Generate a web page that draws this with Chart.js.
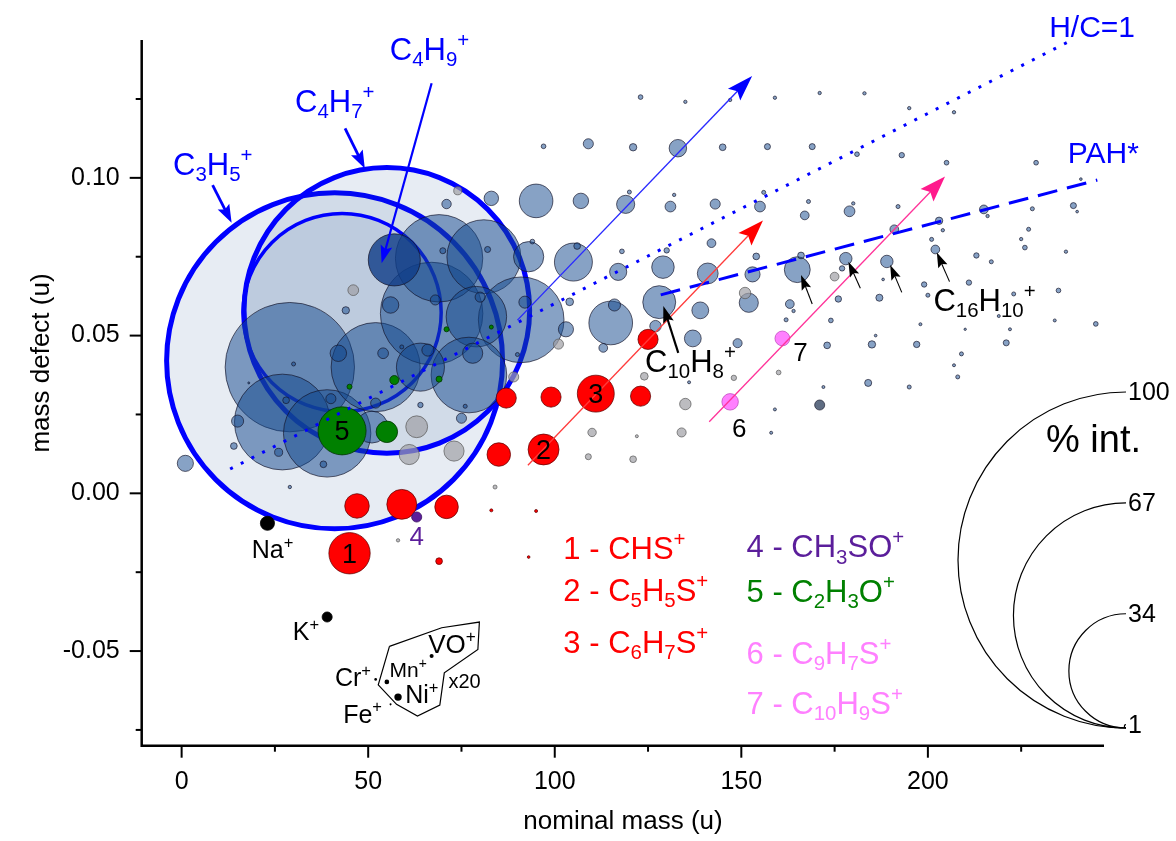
<!DOCTYPE html>
<html>
<head>
<meta charset="utf-8">
<script src="https://cdn.jsdelivr.net/npm/chart.js@4.4.0/dist/chart.umd.min.js"></script>
<style>
  html, body { margin: 0; padding: 0; background: #fff; }
  canvas { display: block; }
</style>
</head>
<body>
<canvas id="c" width="1176" height="841"></canvas>
<script>
// each ion: [nominal mass (u), mass defect (u), % int.]
const bigIons = [ // C3H5+, C4H7+, C3H7+
  [41, 0.042, 100], [55, 0.058, 85], [43, 0.0573, 59]
];
const bigWidths = [5, 5, 3.5];

const blueIons = [
  [29, 0.040, 38.5], [27, 0.0226, 28.5], [39, 0.019, 26], [52, 0.040, 26.5], [67, 0.057, 30.5],
  [69, 0.0745, 26], [81, 0.075, 22], [91, 0.055, 25.5], [79, 0.056, 18], [77, 0.0375, 22.5],
  [64, 0.040, 14.3], [51, 0.021, 9.5], [95, 0.0927, 10], [93, 0.075, 9], [105, 0.0733, 11.3],
  [103, 0.052, 4.5], [83, 0.0935, 4.3], [71, 0.0917, 2.8], [56, 0.0597, 4.9], [80, 0.0622, 3],
  [92, 0.0606, 3.6], [78, 0.0444, 6], [66, 0.0454, 3.6], [75, 0.0238, 3], [1, 0.0095, 4.8],
  [15, 0.0229, 3.6], [14, 0.015, 2], [26, 0.013, 2.4], [38, 0.0092, 2], [29, 0.002, 1],
  [44, 0.058, 2.2], [30, 0.041, 1.2], [42, 0.0444, 4.9], [40, 0.030, 3], [54, 0.0444, 3.2],
  [64, 0.028, 1.6], [76, 0.0276, 1.2], [90, 0.044, 1.2], [52, 0.0286, 3], [28, 0.0295, 2],
  [18, 0.035, 0.6], [70, 0.0769, 1.8], [82, 0.0773, 1.8], [68, 0.0613, 3], [94, 0.0798, 1.4],
  [106, 0.0784, 2], [104, 0.0607, 2.3], [59, 0.0464, 1.2], [115, 0.054, 13], [116, 0.0597, 3.6],
  [128, 0.0606, 9.8], [129, 0.0717, 6.7], [141, 0.0697, 6.2], [153, 0.0694, 4.5], [165, 0.0709, 7.7],
  [178, 0.0744, 3.7], [189, 0.0735, 3.7], [152, 0.0604, 5.7], [139, 0.058, 5], [137, 0.0491, 5],
  [127, 0.053, 3.4], [149, 0.0476, 2.7], [163, 0.060, 2.6], [164, 0.0578, 1], [162, 0.055, 1.2],
  [174, 0.0548, 1.4], [176, 0.0616, 1.9], [187, 0.062, 2.1], [199, 0.0662, 1.6], [200, 0.0628, 1.2],
  [211, 0.0668, 1.6], [213, 0.0754, 1.6], [217, 0.0734, 1.2], [223, 0.0632, 1.2], [235, 0.0643, 1.4],
  [245, 0.0537, 1.4], [234, 0.0548, 0.9], [222, 0.052, 0.9], [219, 0.0562, 0.9], [198, 0.0536, 0.9],
  [210, 0.052, 0.7], [221, 0.0477, 1.8], [197, 0.0472, 1.9], [185, 0.0472, 2.2], [173, 0.0469, 2],
  [209, 0.0442, 1.2], [207, 0.0406, 0.9], [208, 0.0369, 1.2], [184, 0.035, 2.1], [195, 0.0337, 1.2],
  [172, 0.0337, 0.9], [159, 0.0266, 0.9], [158, 0.0192, 0.9], [136, 0.0352, 0.9], [113, 0.0461, 2.6],
  [123, 0.1256, 1.4], [135, 0.1241, 1], [147, 0.1247, 1], [159, 0.1254, 1], [171, 0.1269, 1],
  [183, 0.1268, 1], [195, 0.1221, 1], [207, 0.1208, 1], [97, 0.110, 1.4], [109, 0.1108, 3],
  [121, 0.1097, 2.2], [133, 0.1094, 5.2], [145, 0.1097, 2], [157, 0.1099, 1.8], [169, 0.1099, 1.8],
  [181, 0.1075, 1.4], [193, 0.1072, 1.6], [205, 0.1048, 1.4], [229, 0.1048, 1.4], [107, 0.0927, 4.6],
  [119, 0.0916, 5.4], [120, 0.0955, 1.2], [131, 0.0909, 3.2], [132, 0.0946, 1], [143, 0.0917, 3],
  [155, 0.0909, 3.2], [156, 0.0954, 1.2], [168, 0.0925, 1.2], [167, 0.0881, 2.6], [179, 0.0894, 3.2],
  [180, 0.0919, 1], [192, 0.0909, 1.2], [215, 0.090, 2.6], [216, 0.0879, 1], [228, 0.0902, 1.2],
  [239, 0.0912, 1.8], [240, 0.0893, 0.8], [241, 0.0996, 0.8], [191, 0.0837, 2.6], [203, 0.0864, 2.2],
  [204, 0.0834, 1], [227, 0.0837, 1.2], [225, 0.0806, 1], [226, 0.0779, 1.4], [237, 0.0766, 1],
  [201, 0.0805, 1.2], [202, 0.0773, 2.6], [177, 0.0713, 1.6], [188, 0.0678, 0.8], [118, 0.0767, 1.4],
  [117, 0.0702, 5.1], [130, 0.077, 1.6], [142, 0.0793, 2.6], [154, 0.0751, 2], [166, 0.0754, 2],
  [186, 0.050, 0.8]
];
const darkIons = [[57, 0.074, 15.5]];          // C4H9+
const slateIons = [[171, 0.028, 3]];
const greyIons = [
  [74, 0.0959, 2.4], [46, 0.0644, 3.2], [63, 0.0211, 6.5], [61, 0.0123, 6], [73, 0.0134, 6],
  [89, 0.0369, 3], [101, 0.0473, 3], [58, -0.0149, 1], [84, 0.002, 1.2], [151, 0.0635, 3.4],
  [175, 0.0687, 2.6], [160, 0.0383, 1.4], [148, 0.0366, 1.6], [135, 0.0283, 3.4], [134, 0.0193, 2.7],
  [121, 0.0108, 2], [109, 0.0116, 1.8], [110, 0.0193, 2.5], [122, 0.0181, 0.9], [124, 0.0371, 2.3]
];
const redIons = [
  [45, -0.019, 12.3], [47, -0.004, 7.3], [59, -0.0035, 8.9], [71, -0.0043, 7], [69, -0.0215, 2],
  [83, -0.0054, 0.9], [95, -0.0056, 0.9], [93, -0.0202, 0.8], [85, 0.0123, 7], [97, 0.0139, 9.2],
  [87, 0.0302, 6], [99, 0.0305, 6], [111, 0.0316, 11], [123, 0.0308, 6], [125, 0.0488, 6]
];
const greenIons = [
  [43, 0.0198, 14.3], [55, 0.0195, 6.4], [57, 0.0359, 2.7], [45, 0.0338, 1.5], [69, 0.0362, 1.8],
  [71, 0.052, 1.5], [83, 0.0527, 1.2]
];
const pinkIons = [[147, 0.029, 4.9], [161, 0.0491, 4.4]];
const purpleIons = [[63, -0.0075, 3]];
const blackIons = [[23, -0.0095, 4.2], [39, -0.0392, 3]];          // Na+, K+
const metalIons = [[52, -0.059, 0.8], [55, -0.0598, 1.4], [58, -0.0646, 2.2], [56, -0.0669, 0.6], [67, -0.0516, 1.2]];
const metalBox = [[55.7, -0.0485], [69.7, -0.0426], [79.8, -0.0408], [79.4, -0.0495], [70.4, -0.0569],
  [69.2, -0.0671], [63.2, -0.0706], [57.6, -0.0669], [52.7, -0.0607], [55.7, -0.0485]];

const hcLine = [[13, 0.0077], [237.6, 0.1431]];
const pahLine = [[128.4, 0.0629], [245.4, 0.0993]];

const xMajor = [0, 50, 100, 150, 200];
const xMinor = [25, 75, 125, 175, 225];
const yMajor = [-0.05, 0, 0.05, 0.10];
const yMinor = [-0.075, -0.025, 0.025, 0.075, 0.125];
const sizeLevels = [100, 67, 34, 1];

const X_MIN = -10.7, X_MAX = 247.2, Y_MIN = -0.08, Y_MAX = 0.1437;
const R_PER_PCT = 1.68;
const FAM = '"Liberation Sans", Arial, sans-serif';
const BLUE = '#0000ff', PURPLE = '#5b1e9b', PINK = '#ff80ff';

const toPts = arr => arr.map(([m, d, p]) => ({x: m, y: d, r: p * R_PER_PCT}));
const toXY = arr => arr.map(([m, d]) => ({x: m, y: d}));

// annotation arrows, in data units: [tail, tip]
const arrows = [
  {pts: [[90, 0.0549], [152.9, 0.1323]], color: '#2a2aff', w: 1.4, head: [26, 17], hc: BLUE},
  {pts: [[92.8, 0.0089], [155.8, 0.0865]], color: '#ff3b3b', w: 1.3, head: [26, 18], hc: '#ff0000'},
  {pts: [[141.4, 0.0227], [204.6, 0.1004]], color: '#ff3399', w: 1.3, head: [26, 18], hc: '#ff1a8c'},
  {pts: [[133.1, 0.0445], [129.1, 0.0594]], color: '#000', w: 2.2, head: [17, 11], hc: '#000'},
  {pts: [[169.0, 0.060], [166.0, 0.0692]], color: '#000', w: 1.1, head: [15, 10], hc: '#000'},
  {pts: [[181.9, 0.065], [178.7, 0.0734]], color: '#000', w: 1.1, head: [15, 10], hc: '#000'},
  {pts: [[193.0, 0.0637], [189.9, 0.0724]], color: '#000', w: 1.1, head: [15, 10], hc: '#000'},
  {pts: [[205.8, 0.0671], [202.4, 0.0763]], color: '#000', w: 1.1, head: [15, 10], hc: '#000'},
  {pts: [[8.3, 0.0977], [13.4, 0.0858]], color: BLUE, w: 2.8, head: [18, 13], hc: BLUE},
  {pts: [[43.8, 0.1157], [49.1, 0.1030]], color: BLUE, w: 2.8, head: [18, 13], hc: BLUE},
  {pts: [[67.0, 0.130], [53.6, 0.0729]], color: BLUE, w: 2.2, head: [18, 12], hc: BLUE}
];

// text labels (left baseline in data units)
const labels = [
  {t: 'C_{3}H_{5}^{+}', m: -2.3, d: 0.1009, s: 31, c: BLUE},
  {t: 'C_{4}H_{7}^{+}', m: 30.4, d: 0.1209, s: 31, c: BLUE},
  {t: 'C_{4}H_{9}^{+}', m: 55.8, d: 0.1374, s: 31, c: BLUE},
  {t: 'H/C=1', m: 232.5, d: 0.1447, s: 30, c: BLUE},
  {t: 'PAH*', m: 237.5, d: 0.1047, s: 30, c: BLUE},
  {t: 'C_{10}H_{8}^{+}', m: 124.2, d: 0.0384, s: 31, c: '#000'},
  {t: 'C_{16}H_{10}^{+}', m: 201.5, d: 0.0578, s: 31, c: '#000'},
  {t: '7', m: 163.9, d: 0.0419, s: 26, c: '#000'},
  {t: '6', m: 147.5, d: 0.0178, s: 26, c: '#000'},
  {t: '4', m: 61.1, d: -0.0165, s: 26, c: PURPLE},
  {t: 'Na^{+}', m: 18.8, d: -0.0206, s: 25, c: '#000'},
  {t: 'K^{+}', m: 29.8, d: -0.0466, s: 25, c: '#000'},
  {t: 'Cr^{+}', m: 41.1, d: -0.0611, s: 25, c: '#000'},
  {t: 'Mn^{+}', m: 55.7, d: -0.0583, s: 21, c: '#000'},
  {t: 'VO^{+}', m: 66.1, d: -0.0507, s: 26, c: '#000'},
  {t: 'Ni^{+}', m: 59.9, d: -0.0666, s: 25, c: '#000'},
  {t: 'Fe^{+}', m: 43.3, d: -0.0728, s: 25, c: '#000'},
  {t: 'x20', m: 71.5, d: -0.0618, s: 20, c: '#000'},
  {t: '1 - CHS^{+}', m: 102.3, d: -0.0209, s: 31, c: '#ff0000'},
  {t: '2 - C_{5}H_{5}S^{+}', m: 102.3, d: -0.0341, s: 31, c: '#ff0000'},
  {t: '3 - C_{6}H_{7}S^{+}', m: 102.3, d: -0.0507, s: 31, c: '#ff0000'},
  {t: '4 - CH_{3}SO^{+}', m: 151.4, d: -0.0203, s: 31, c: PURPLE},
  {t: '5 - C_{2}H_{3}O^{+}', m: 151.4, d: -0.0345, s: 31, c: '#008000'},
  {t: '6 - C_{9}H_{7}S^{+}', m: 151.4, d: -0.054, s: 31, c: PINK},
  {t: '7 - C_{10}H_{9}S^{+}', m: 151.4, d: -0.0699, s: 31, c: PINK}
];
// numbers printed inside bubbles
const bubbleTags = [['1', redIons[0]], ['2', redIons[9]], ['3', redIons[12]], ['5', greenIons[0]]];

function parseRich(s) {
  const out = [];
  const re = /([_^])\{([^}]*)\}|([^_^]+)/g;
  let m;
  while ((m = re.exec(s))) {
    if (m[1]) out.push({t: m[2], k: m[1]});
    else out.push({t: m[3], k: ''});
  }
  return out;
}

function drawRich(ctx, s, x, y, size, color, align) {
  const parts = parseRich(s);
  let w = 0;
  parts.forEach(p => {
    p.fs = p.k ? size * 0.66 : size;
    ctx.font = p.fs + 'px ' + FAM;
    p.w = ctx.measureText(p.t).width;
    w += p.w;
  });
  let cx = align === 'center' ? x - w / 2 : x;
  ctx.fillStyle = color;
  ctx.textAlign = 'left';
  ctx.textBaseline = 'alphabetic';
  parts.forEach(p => {
    ctx.font = p.fs + 'px ' + FAM;
    let dy = 0;
    if (p.k === '_') dy = size * 0.2;
    if (p.k === '^') dy = -size * 0.42;
    ctx.fillText(p.t, cx, y + dy);
    cx += p.w;
  });
}

const axesPlugin = {
  id: 'axes',
  afterDraw(chart) {
    const {ctx, chartArea: a, scales: {x, y}} = chart;
    ctx.save();
    ctx.strokeStyle = '#000';
    ctx.lineWidth = 2.5;
    ctx.beginPath();
    ctx.moveTo(a.left, a.top);
    ctx.lineTo(a.left, a.bottom);
    ctx.lineTo(a.right, a.bottom);
    ctx.stroke();
    ctx.lineWidth = 2;
    const tick = (v, len, horiz) => {
      ctx.beginPath();
      if (horiz) {
        const px = x.getPixelForValue(v);
        ctx.moveTo(px, a.bottom);
        ctx.lineTo(px, a.bottom + len);
      } else {
        const py = y.getPixelForValue(v);
        ctx.moveTo(a.left, py);
        ctx.lineTo(a.left - len, py);
      }
      ctx.stroke();
    };
    xMajor.forEach(v => tick(v, 12, true));
    xMinor.forEach(v => tick(v, 6, true));
    yMajor.forEach(v => tick(v, 12, false));
    yMinor.forEach(v => tick(v, 6, false));

    // axis titles
    ctx.fillStyle = '#000';
    ctx.font = '26px ' + FAM;
    ctx.textAlign = 'center';
    ctx.textBaseline = 'middle';
    ctx.fillText('nominal mass (u)', 623, 822);
    ctx.translate(42, 363);
    ctx.rotate(-Math.PI / 2);
    ctx.fillText('mass defect (u)', 0, 0);
    ctx.restore();

    // size key
    ctx.save();
    const cx = a.right + 22, by = a.bottom - 17.7;
    ctx.strokeStyle = '#000';
    ctx.lineWidth = 1.2;
    ctx.fillStyle = '#000';
    ctx.font = '25px ' + FAM;
    ctx.textAlign = 'left';
    ctx.textBaseline = 'middle';
    sizeLevels.forEach(p => {
      const R = p * R_PER_PCT;
      ctx.beginPath();
      ctx.arc(cx, by - R, R, -Math.PI / 2, Math.PI / 2, true);
      ctx.stroke();
      ctx.fillText(String(p), cx + 2, by - 2 * R + 1);
    });
    ctx.font = '38px ' + FAM;
    ctx.textBaseline = 'alphabetic';
    ctx.fillText('% int.', 1046, 452);
    ctx.restore();
  }
};

const annotPlugin = {
  id: 'annot',
  afterDatasetsDraw(chart) {
    const {ctx, scales: {x, y}} = chart;
    ctx.save();
    arrows.forEach(ar => {
      const [t, h] = ar.pts;
      const x1 = x.getPixelForValue(t[0]), y1 = y.getPixelForValue(t[1]);
      const x2 = x.getPixelForValue(h[0]), y2 = y.getPixelForValue(h[1]);
      const ang = Math.atan2(y2 - y1, x2 - x1);
      const [L, W] = ar.head;
      ctx.strokeStyle = ar.color;
      ctx.lineWidth = ar.w;
      ctx.beginPath();
      ctx.moveTo(x1, y1);
      ctx.lineTo(x2 - Math.cos(ang) * L * 0.7, y2 - Math.sin(ang) * L * 0.7);
      ctx.stroke();
      ctx.save();
      ctx.translate(x2, y2);
      ctx.rotate(ang);
      ctx.fillStyle = ar.hc;
      ctx.beginPath();
      ctx.moveTo(0, 0);
      ctx.lineTo(-L, -W / 2);
      ctx.lineTo(-L * 0.82, 0);
      ctx.lineTo(-L, W / 2);
      ctx.closePath();
      ctx.fill();
      ctx.restore();
    });
    labels.forEach(l => {
      drawRich(ctx, l.t, x.getPixelForValue(l.m), y.getPixelForValue(l.d), l.s, l.c, 'left');
    });
    bubbleTags.forEach(([t, ion]) => {
      drawRich(ctx, t, x.getPixelForValue(ion[0]), y.getPixelForValue(ion[1]) + 9.5, 27, '#000', 'center');
    });
    ctx.restore();
  }
};

const bubble = (data, bg, border, bw, order) => ({
  type: 'bubble', data: toPts(data), backgroundColor: bg, borderColor: border,
  borderWidth: bw, order: order
});
const line = (pts, color, w, dash, order) => ({
  type: 'line', data: toXY(pts), borderColor: color, borderWidth: w, borderDash: dash,
  pointRadius: 0, fill: false, tension: 0, order: order, clip: false
});

new Chart(document.getElementById('c'), {
  type: 'bubble',
  data: {
    datasets: [
      line(hcLine, BLUE, 3, [3, 9], 0),
      line(pahLine, BLUE, 3, [20, 10], 0),
      line(metalBox, '#000', 1.2, [], 0),
      bubble(metalIons, '#000', '#000', 0, 1),
      bubble(blackIons, '#000', '#000', 0.8, 1),
      bubble(purpleIons, PURPLE, '#3a1060', 0.8, 1),
      bubble(pinkIons, PINK, '#c050c0', 0.8, 1),
      bubble(greenIons, '#008000', '#003300', 0.8, 1),
      bubble(redIons, '#ff0000', 'rgba(90,0,0,0.9)', 0.8, 1),
      bubble(slateIons, 'rgba(55,72,100,0.8)', 'rgba(20,20,40,0.8)', 0.8, 2),
      bubble(darkIons, 'rgba(15,60,135,0.8)', 'rgba(20,20,40,0.8)', 0.9, 2),
      bubble(greyIons, 'rgba(160,160,165,0.7)', 'rgba(90,90,90,0.8)', 0.9, 3),
      bubble(blueIons, 'rgba(15,70,140,0.5)', 'rgba(20,20,40,0.75)', 0.9, 4),
      {
        type: 'bubble', data: toPts(bigIons), backgroundColor: 'rgba(15,70,140,0.1)',
        borderColor: BLUE, borderWidth: bigWidths, order: 5
      }
    ]
  },
  options: {
    responsive: false,
    animation: false,
    events: [],
    layout: {autoPadding: false, padding: {left: 0, top: 40, right: 72, bottom: 0}},
    plugins: {legend: {display: false}, tooltip: {enabled: false}},
    scales: {
      x: {
        type: 'linear', min: X_MIN, max: X_MAX,
        grid: {display: false, drawTicks: false}, border: {display: false},
        afterBuildTicks: s => { s.ticks = xMajor.map(v => ({value: v})); },
        afterFit: s => { s.height = 95.3; },
        ticks: {font: {size: 25, family: FAM}, color: '#000', padding: 21, maxRotation: 0, autoSkip: false,
          callback: v => String(v)}
      },
      y: {
        type: 'linear', min: Y_MIN, max: Y_MAX,
        grid: {display: false, drawTicks: false}, border: {display: false},
        afterBuildTicks: s => { s.ticks = yMajor.map(v => ({value: v})); },
        afterFit: s => { s.width = 141.7; },
        ticks: {font: {size: 25, family: FAM}, color: '#000', padding: 22, autoSkip: false,
          callback: v => Number(v).toFixed(2)}
      }
    }
  },
  plugins: [axesPlugin, annotPlugin]
});
</script>
</body>
</html>
